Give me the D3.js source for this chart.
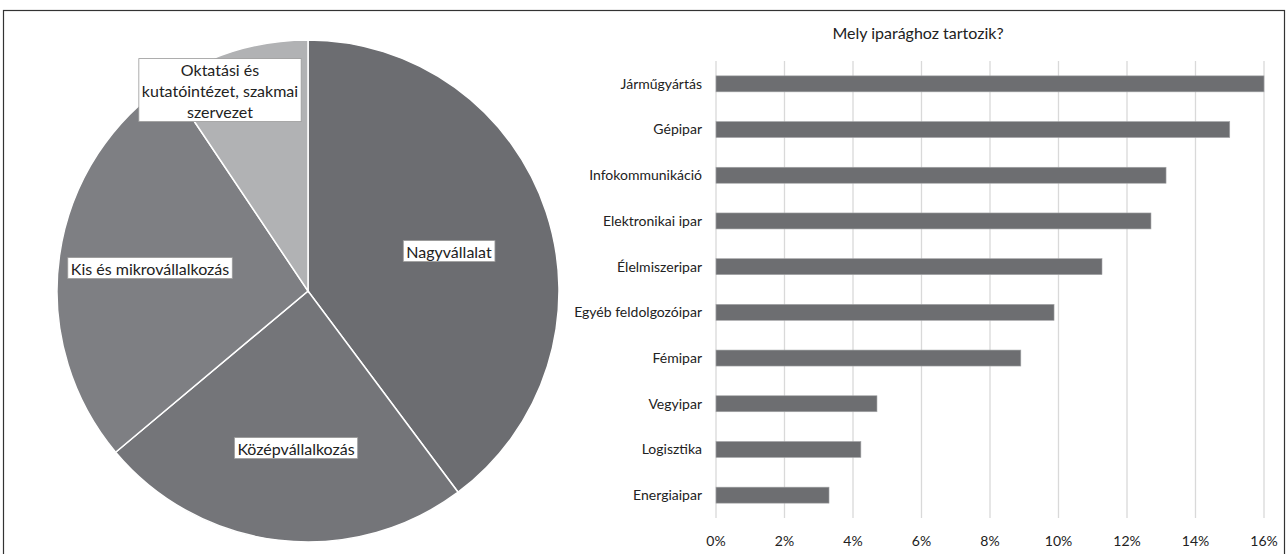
<!DOCTYPE html>
<html><head><meta charset="utf-8">
<script src="https://cdn.jsdelivr.net/npm/d3@7"></script>
<style>body{margin:0;background:#fff}svg{display:block}text{font-family:Lato,"Open Sans",sans-serif;fill:#222}</style>
</head><body><svg id="c" width="1288" height="554"></svg>
<script>
const pieCategories = ["Nagyvállalat","Középvállalkozás","Kis és mikrovállalkozás","Oktatási és kutatóintézet, szakmai szervezet"];
const pieValues = [39.8, 24.1, 26.7, 9.4];
const pieColors = ["#6c6d71","#747579","#7e7f83","#b1b2b4"];
const pieLabelLines = [["Nagyvállalat"],["Középvállalkozás"],["Kis és mikrovállalkozás"],["Oktatási és","kutatóintézet, szakmai","szervezet"]];

const barTitle = "Mely iparághoz tartozik?";
const barCategories = ["Járműgyártás","Gépipar","Infokommunikáció","Elektronikai ipar","Élelmiszeripar","Egyéb feldolgozóipar","Fémipar","Vegyipar","Logisztika","Energiaipar"];
const barValues = [16.0, 15.0, 13.14, 12.7, 11.27, 9.87, 8.9, 4.7, 4.23, 3.3];
const tickValues = [0,2,4,6,8,10,12,14,16];

const svg = d3.select("#c");
svg.append("rect").attr("x",3.5).attr("y",10.5).attr("width",1281).attr("height",560)
  .attr("fill","none").attr("stroke","#333").attr("stroke-width",1.2);

// Pie
const cx = 308, cy = 291, R = 251;
const pg = svg.append("g").attr("transform",`translate(${cx},${cy})`);
const pie = d3.pie().sort(null).value(d=>d)(pieValues);
const arc = d3.arc().innerRadius(0).outerRadius(R);
pg.selectAll("path").data(pie).join("path").attr("d",arc)
  .attr("fill",(d,i)=>pieColors[i]).attr("stroke","#fff").attr("stroke-width",1.5);

const labelPos = [[449,252],[296,449],[150,269],[220,91]];
const lh = 21;
pieLabelLines.forEach((lines,i)=>{
  const g = svg.append("g");
  const t = g.append("text").attr("text-anchor","middle").style("font-size","16px");
  const n = lines.length;
  lines.forEach((l,k)=>{
    t.append("tspan").attr("x",labelPos[i][0]).attr("y",labelPos[i][1] + (k-(n-1)/2)*lh).attr("dy","0.35em").text(l);
  });
  const bb = t.node().getBBox();
  g.insert("rect","text").attr("x",bb.x-3).attr("y",bb.y-1).attr("width",bb.width+6).attr("height",bb.height+2)
    .attr("fill","#fff").attr("stroke","#9a9a9a").attr("stroke-width",0.8);
});

// Bar chart
const x = d3.scaleLinear().domain([0,16]).range([716,1264]);
const y = d3.scaleBand().domain(barCategories).range([61,518]).paddingInner(0.65).paddingOuter(0.325);
const bg = svg.append("g");
bg.selectAll("line.grid").data(tickValues).join("line").attr("class","grid")
  .attr("x1",d=>x(d)).attr("x2",d=>x(d)).attr("y1",61).attr("y2",518)
  .attr("stroke","#d9d9d9").attr("stroke-width",1.3);
bg.selectAll("rect.bar").data(barValues).join("rect").attr("class","bar")
  .attr("x",x(0)).attr("y",(d,i)=>y(barCategories[i])).attr("width",d=>x(d)-x(0)).attr("height",y.bandwidth())
  .attr("fill","#6d6e71").attr("stroke","#a5a6a8").attr("stroke-width",0.6);
bg.selectAll("text.cat").data(barCategories).join("text").attr("class","cat")
  .attr("x",702).attr("y",d=>y(d)+y.bandwidth()/2).attr("dy","0.35em").attr("text-anchor","end")
  .style("font-size","14px").text(d=>d);
bg.selectAll("text.tick").data(tickValues).join("text").attr("class","tick")
  .attr("x",d=>x(d)).attr("y",541).attr("dy","0.35em").attr("text-anchor","middle")
  .style("font-size","14px").text(d=>d3.format("d")(d)+"%");
svg.append("text").attr("x",918).attr("y",33).attr("dy","0.35em").attr("text-anchor","middle")
  .style("font-size","16px").text(barTitle);
</script></body></html>
